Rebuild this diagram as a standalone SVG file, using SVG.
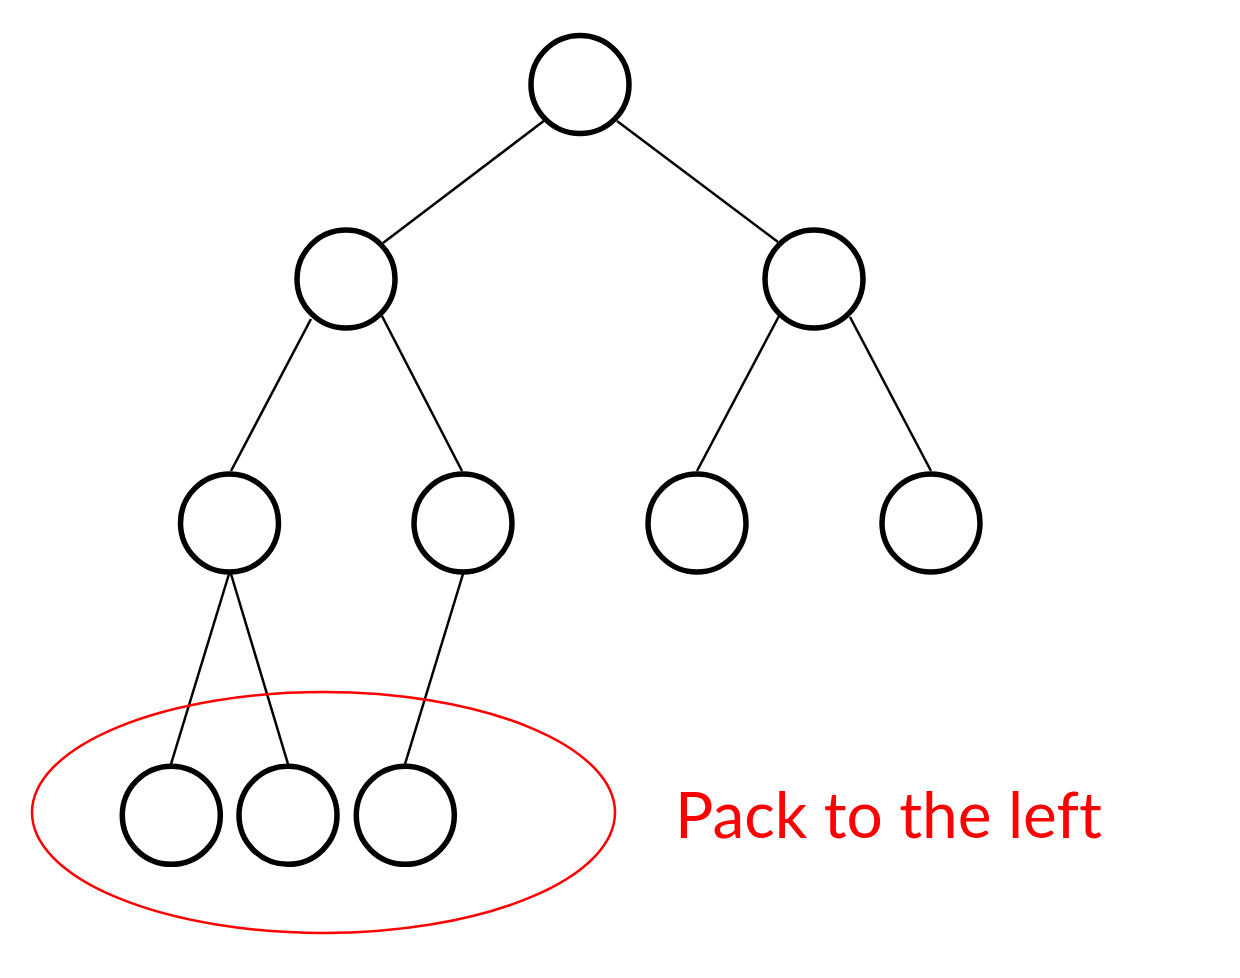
<svg xmlns="http://www.w3.org/2000/svg" width="1240" height="978" viewBox="0 0 1240 978">
<style>
.node{fill:#fff;stroke:#000;stroke-width:5.5}
.edge{stroke:#000;stroke-width:2.5;fill:none}
.hl{fill:none;stroke:#ff0000;stroke-width:2.5}
.lbl{font-family:Lato,"Open Sans","Liberation Sans",sans-serif;font-size:64px;fill:#ff0000;font-variant-ligatures:none}
</style>
<rect width="1240" height="978" fill="#fff"/>
<g id="connectors">
<line class="edge" x1="545" y1="120" x2="383" y2="243"/>
<line class="edge" x1="617" y1="121" x2="778" y2="242"/>
<line class="edge" x1="311" y1="319" x2="231" y2="471"/>
<line class="edge" x1="382" y1="316" x2="462" y2="471"/>
<line class="edge" x1="779" y1="316" x2="697" y2="471"/>
<line class="edge" x1="850" y1="317" x2="931" y2="471"/>
<line class="edge" x1="229" y1="574" x2="171" y2="764"/>
<line class="edge" x1="231" y1="574" x2="288" y2="764"/>
<line class="edge" x1="463" y1="574" x2="405" y2="764"/>
</g>
<g id="n1"><circle class="node" cx="580" cy="84.5" r="49"/></g>
<g id="n2"><circle class="node" cx="346" cy="279" r="49"/></g>
<g id="n3"><circle class="node" cx="814" cy="279" r="49"/></g>
<g id="n4"><circle class="node" cx="229.5" cy="523" r="49"/></g>
<g id="n5"><circle class="node" cx="463" cy="523" r="49"/></g>
<g id="n6"><circle class="node" cx="697" cy="523" r="49"/></g>
<g id="n7"><circle class="node" cx="931" cy="523" r="49"/></g>
<g id="n8"><circle class="node" cx="171.3" cy="815.3" r="49"/></g>
<g id="n9"><circle class="node" cx="288" cy="815.3" r="49"/></g>
<g id="n10"><circle class="node" cx="405.3" cy="815.3" r="49"/></g>
<g id="highlight"><ellipse class="hl" cx="323.5" cy="812.5" rx="291.5" ry="120.5"/></g>
<g id="label"><text class="lbl" x="675" y="838">Pack to the left</text></g>
</svg>
